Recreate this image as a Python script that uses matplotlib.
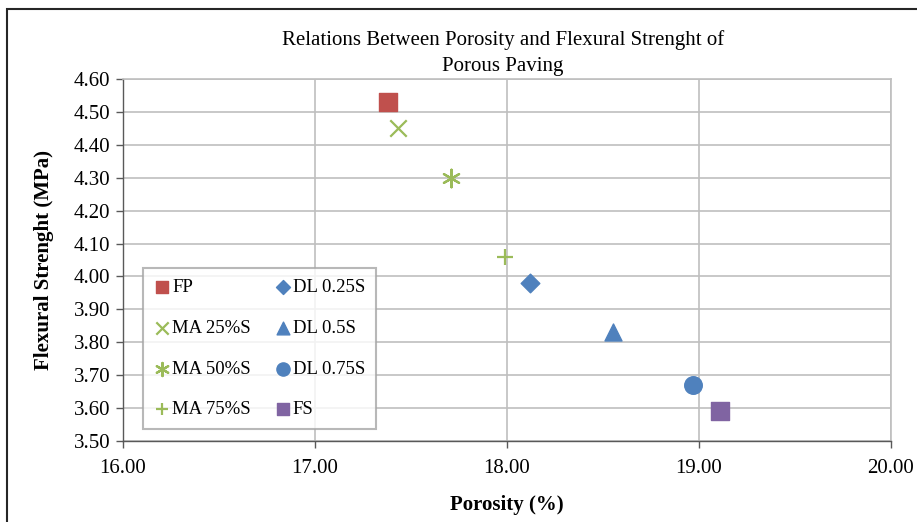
import matplotlib.pyplot as plt
from matplotlib.patches import Rectangle

plt.rcParams['font.family'] = ['Liberation Serif', 'DejaVu Serif']

# data
labels = ['FP', 'MA 25%S', 'MA 50%S', 'MA 75%S', 'DL 0.25S', 'DL 0.5S', 'DL 0.75S', 'FS']
porosity = [17.38, 17.43, 17.71, 17.99, 18.12, 18.55, 18.97, 19.11]
strength = [4.53, 4.45, 4.30, 4.06, 3.98, 3.83, 3.67, 3.59]

colors = ['#C0504D', '#9BBB59', '#9BBB59', '#9BBB59', '#4F81BD', '#4F81BD', '#4F81BD', '#8064A2']
markers = ['s', 'x', '*', '+', 'D', '^', 'o', 's']
sizes = [150, 140, 160, 140, 90, 150, 160, 150]


def main():
    fig = plt.figure(figsize=(9.17, 5.22), dpi=100)
    ax = fig.add_axes([123 / 917, 1 - 441 / 522, 768 / 917, 362 / 522])

    for x, y, lab, c, m, s in zip(porosity, strength, labels, colors, markers, sizes):
        if m == '*':
            # asterisk-style marker like the Excel one
            ax.scatter([x], [y], marker=(6, 2, 0), s=s, color=c, linewidths=1.6, label=lab, zorder=3)
        elif m in ('x', '+'):
            ax.scatter([x], [y], marker=m, s=s, color=c, linewidths=1.6, label=lab, zorder=3)
        else:
            ax.scatter([x], [y], marker=m, s=s, color=c, edgecolors=c, label=lab, zorder=3)

    ax.set_xlim(16, 20)
    ax.set_ylim(3.5, 4.6)
    ax.set_xticks([16, 17, 18, 19, 20])
    ax.set_yticks([3.5 + 0.1 * i for i in range(12)])
    ax.xaxis.set_major_formatter(plt.FormatStrFormatter('%.2f'))
    ax.yaxis.set_major_formatter(plt.FormatStrFormatter('%.2f'))
    ax.tick_params(labelsize=15, length=5, width=1, color='#595959')
    ax.tick_params(axis='x', pad=8)
    ax.tick_params(axis='y', pad=4)

    ax.grid(True, color='#BFBFBF', linewidth=1.2)
    ax.set_axisbelow(True)
    for side in ['top', 'right']:
        ax.spines[side].set_color('#BFBFBF')
        ax.spines[side].set_linewidth(1.2)
    for side in ['left', 'bottom']:
        ax.spines[side].set_color('#595959')
        ax.spines[side].set_linewidth(1)

    ax.set_xlabel('Porosity (%)', fontsize=15, fontweight='bold', labelpad=12)
    ax.set_ylabel('Flexural Strenght (MPa)', fontsize=15, fontweight='bold', labelpad=14)
    fig.text(503 / 917, 1 - 53 / 522, 'Relations Between Porosity and Flexural Strenght of\nPorous Paving',
             ha='center', va='center', fontsize=15, linespacing=1.45)

    leg = ax.legend(ncol=2, loc='upper left', bbox_to_anchor=(20 / 768, (441 - 268) / 362),
                    borderaxespad=0, fontsize=13.5, frameon=True, fancybox=False, edgecolor='#A6A6A6',
                    handletextpad=0.15, columnspacing=1.3, labelspacing=1.25,
                    borderpad=0.6, handlelength=0.8, markerscale=0.75)
    leg.get_frame().set_linewidth(1.5)

    # outer chart border
    fig.patches.append(Rectangle((7 / 917, -0.05), 1.1, 1 - 9 / 522 + 0.05, transform=fig.transFigure,
                                 fill=False, edgecolor='#262626', linewidth=1.5))

    fig.savefig('out.png', dpi=100)


if __name__ == '__main__':
    main()
